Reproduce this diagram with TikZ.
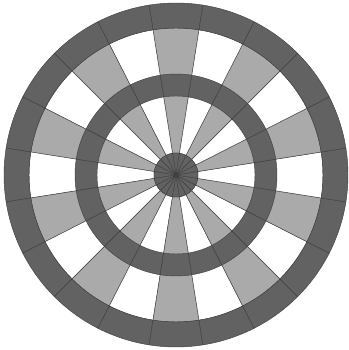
\documentclass[tikz,border=0pt]{standalone}
\usepackage{tikz}
\definecolor{ringgray}{RGB}{98,98,98}
\definecolor{sectorgray}{RGB}{170,170,170}
% one piece of an annulus: inner radius, outer radius, start, end, fill
\newcommand{\boardpiece}[5]{%
  \filldraw[seg, fill=#5] ([shift={(#3:#1)}]C) arc[start angle=#3, end angle=#4, radius=#1]
    -- ([shift={(#4:#2)}]C) arc[start angle=#4, end angle=#3, radius=#2] -- cycle;}
\begin{document}
\begin{tikzpicture}[x=1pt, y=1pt,
  seg/.style={draw=black!75, line width=0.45pt},
]
  \useasboundingbox (0,0) rectangle (348,350);
  \coordinate (C) at (176,175);

  \foreach \k in {0,...,19}{
    \pgfmathsetmacro{\a}{81+18*\k}
    \pgfmathsetmacro{\b}{99+18*\k}
    \pgfmathtruncatemacro{\odd}{mod(\k,2)}
    \ifnum\odd=0 \def\sectfill{sectorgray}\else\def\sectfill{white}\fi
    \boardpiece{22}{147}{\a}{\b}{\sectfill}
    \boardpiece{79}{101}{\a}{\b}{ringgray}
    \boardpiece{147}{172}{\a}{\b}{ringgray}
    \filldraw[seg, fill=ringgray] (C) -- ([shift={(\a:22)}]C) arc[start angle=\a, end angle=\b, radius=22] -- cycle;
  }
\end{tikzpicture}
\end{document}
